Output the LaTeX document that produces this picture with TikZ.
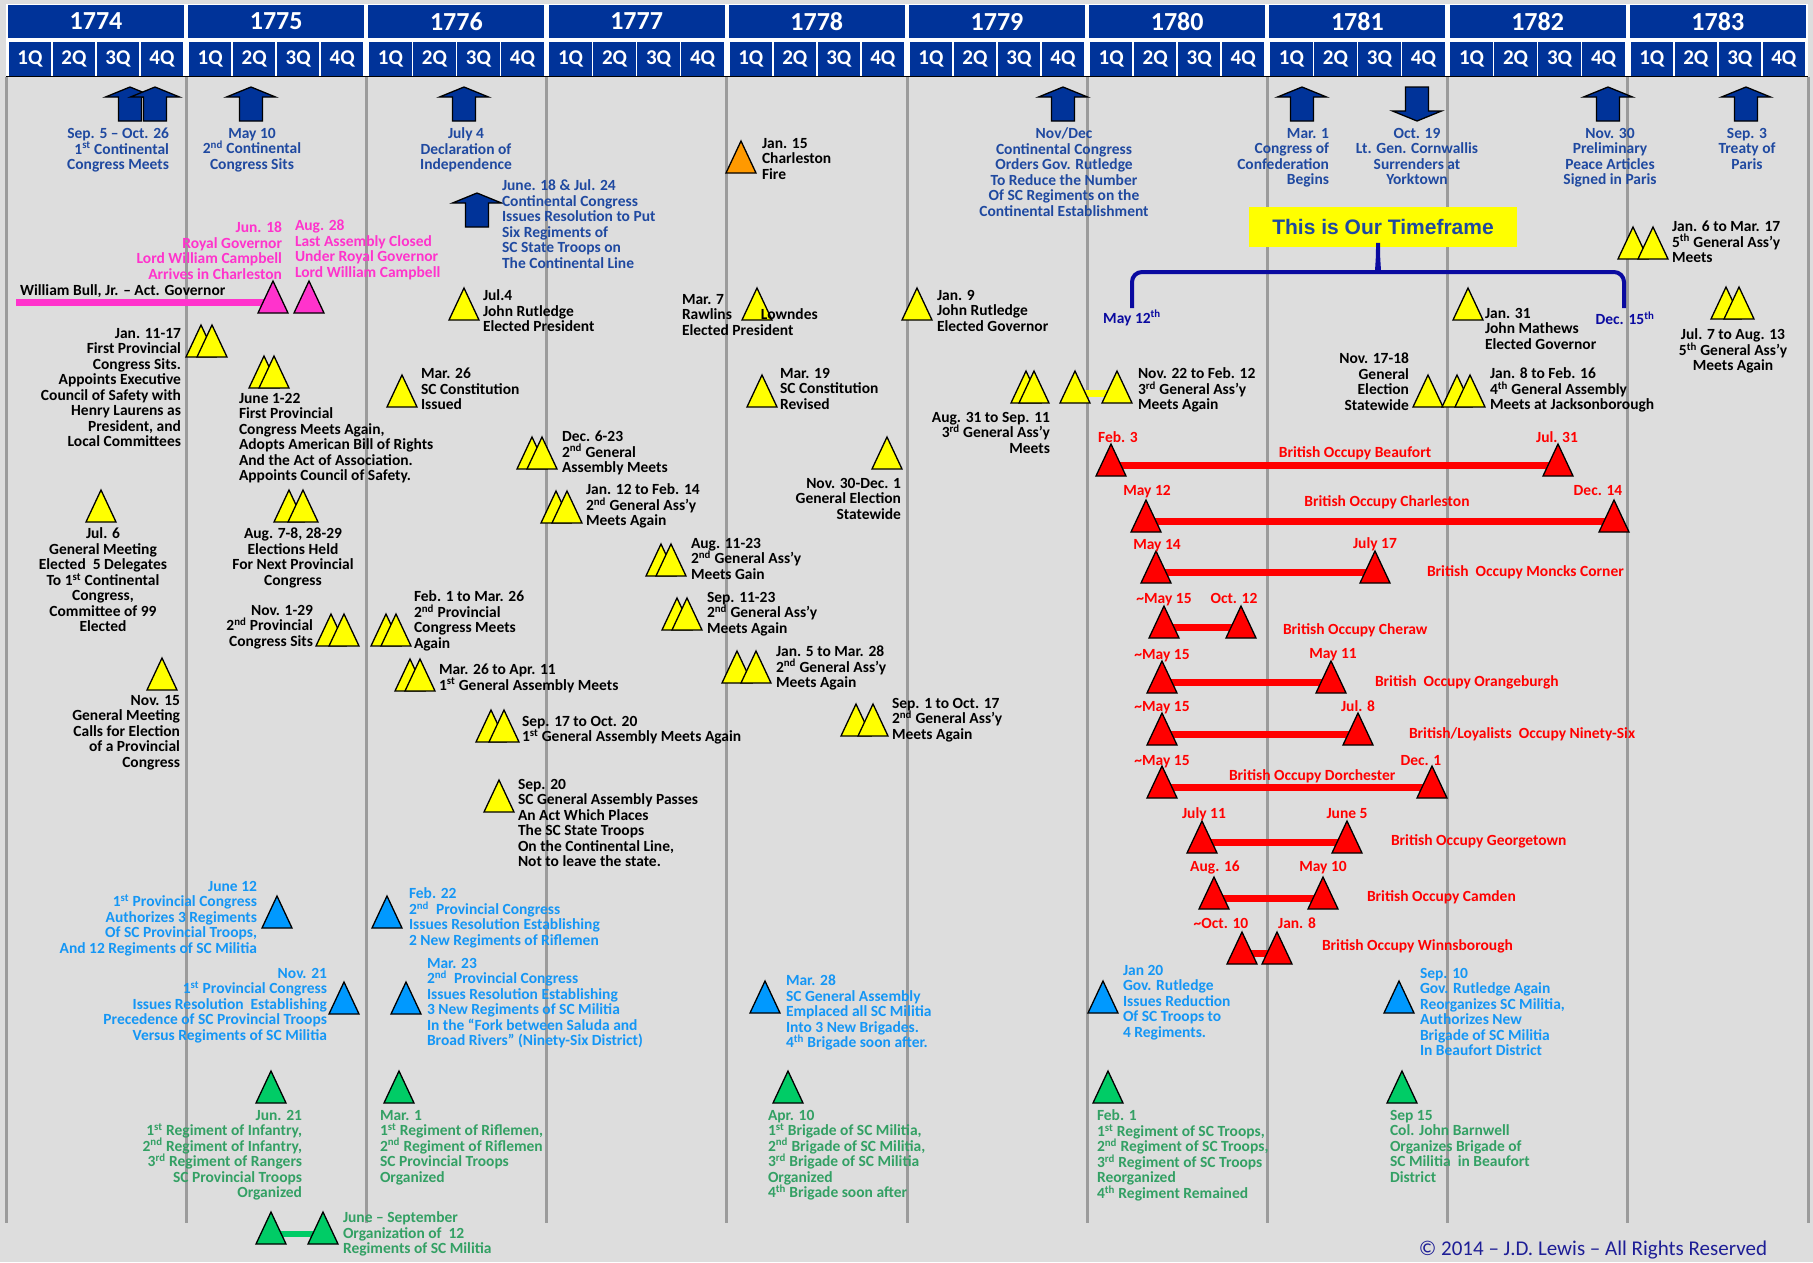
\documentclass[tikz,border=0pt]{standalone}
\usepackage{fontspec}
\setmainfont{Carlito}
\newfontfamily\arialfont{Liberation Sans}
\usetikzlibrary{shapes.geometric}
\pgfdeclarelayer{background}
\pgfdeclarelayer{bars}
\pgfsetlayers{background,bars,main}
\definecolor{hdrBlue}{RGB}{0,51,153}
\definecolor{bgGray}{RGB}{221,221,221}
\definecolor{lineGray}{RGB}{155,155,155}
\definecolor{arrowText}{RGB}{31,73,160}
\definecolor{braceNavy}{RGB}{10,10,160}
\definecolor{govPink}{RGB}{255,51,204}
\definecolor{evYellow}{RGB}{255,255,0}
\definecolor{fireOrange}{RGB}{255,153,0}
\definecolor{occRed}{RGB}{255,0,0}
\definecolor{milBlue}{RGB}{0,153,255}
\definecolor{milBlueText}{RGB}{20,150,245}
\definecolor{regGreen}{RGB}{0,204,102}
\definecolor{regGreenText}{RGB}{51,160,100}
\definecolor{copyNavy}{RGB}{30,30,150}
\def\yearWidth{180.2}
\newcommand{\evtFont}{\fontsize{15.5}{15.5}\selectfont\bfseries\lineskiplimit=-50pt\relax}
\newcommand{\ordsup}[1]{\textsuperscript{#1}}
\tikzstyle{yearbox}=[fill=hdrBlue,text=white,minimum width=176pt,minimum height=33pt,inner sep=0pt,font=\fontsize{26}{26}\selectfont\bfseries]
\tikzstyle{qbox}=[fill=hdrBlue,text=white,minimum width=42.5pt,minimum height=34pt,inner sep=0pt,font=\fontsize{21}{21}\selectfont\bfseries]
\tikzstyle{divider}=[draw=lineGray,line width=3pt]
\tikzstyle{blockarrow}=[fill=hdrBlue,draw=black,line width=1.3pt,line join=miter]
\tikzstyle{tri}=[isosceles triangle,isosceles triangle stretches,shape border rotate=90,minimum width=30pt,minimum height=32pt,inner sep=0pt,outer sep=0pt,draw=black,line width=1.3pt,anchor=lower side]
\tikzstyle{ytri}=[tri,fill=evYellow]
\tikzstyle{otri}=[tri,fill=fireOrange]
\tikzstyle{ptri}=[tri,fill=govPink]
\tikzstyle{rtri}=[tri,fill=occRed]
\tikzstyle{btri}=[tri,fill=milBlue]
\tikzstyle{gtri}=[tri,fill=regGreen]
\tikzstyle{evt}=[font=\evtFont,inner sep=0pt,outer sep=0pt,text=black]
\tikzstyle{atxt}=[evt,text=arrowText]
\tikzstyle{ptxt}=[evt,text=govPink]
\tikzstyle{rtxt}=[evt,text=occRed]
\tikzstyle{btxt}=[evt,text=milBlueText]
\tikzstyle{gtxt}=[evt,text=regGreenText]
\tikzstyle{redbar}=[draw=occRed,line width=7.5pt]
\tikzstyle{pinkbar}=[draw=govPink,line width=7pt]
\tikzstyle{yellowbar}=[draw=evYellow,line width=7pt]
\tikzstyle{greenbar}=[draw=regGreen,line width=6.5pt]
\newcommand{\blockUp}[2]{
  \draw[blockarrow] (#1,#2) -- ++(24.5,10) -- ++(-13,0) -- ++(0,24) -- ++(-23,0) -- ++(0,-24) -- ++(-13,0) -- cycle;
}
\newcommand{\blockDown}[2]{
  \draw[blockarrow] (#1,#2) -- ++(24.5,-10) -- ++(-13,0) -- ++(0,-24) -- ++(-23,0) -- ++(0,24) -- ++(-13,0) -- cycle;
}
\newcommand{\occupy}[4]{
  \node[rtri] (#1-s) at (#2,#4) {};
  \node[rtri] (#1-e) at (#3,#4) {};
  \begin{pgfonlayer}{bars}
    \draw[redbar] ([yshift=10.5pt]#1-s.lower side) -- ([yshift=10.5pt]#1-e.lower side);
  \end{pgfonlayer}
}
\begin{document}
\begin{tikzpicture}[x=1pt,y=-1pt]
\useasboundingbox (0,0) rectangle (1813,1262);
\begin{pgfonlayer}{background}
  \fill[bgGray] (0,0) rectangle (1813,1262);
  \fill[white] (6,4) rectangle (1808,77);
  \foreach \i in {0,...,10}
    \draw[divider] ({6+\yearWidth*\i},77) -- ({6+\yearWidth*\i},1223);
\end{pgfonlayer}

% Years and quarters
\foreach \yr [count=\i from 0] in {1774,...,1783} {
  \node[yearbox] (year\yr) at ({96+\yearWidth*\i},21.5) {\yr};
  \foreach \q in {1,...,4}
    \node[qbox] (q\yr-\q) at ({30+44*(\q-1)+\yearWidth*\i},59) {\q Q};
}
\draw[line width=1.2pt] (6,76.5) -- (1808,76.5);

% Continental events
\blockUp{130}{87}
\blockUp{155}{87}
\blockUp{251}{87}
\blockUp{464}{87}
\blockUp{477}{193}
\blockUp{1063}{87}
\blockUp{1302}{87}
\blockDown{1417}{121}
\blockUp{1608}{87}
\blockUp{1746}{87}
\node[atxt,anchor=north east,align=right] (contMeets) at (169,128) {Sep. 5 – Oct. 26\\1\ordsup{st} Continental\\Congress Meets};
\node[atxt,anchor=north,align=center] (contSits) at (252,128) {May 10\\2\ordsup{nd} Continental\\Congress Sits};
\node[atxt,anchor=north,align=center] (declaration) at (466,128) {July 4\\Declaration of\\Independence};
\node[atxt,anchor=north west,align=left] (sixRegts) at (502,180) {June. 18 \& Jul. 24\\Continental Congress\\Issues Resolution to Put\\Six Regiments of\\SC State Troops on\\The Continental Line};
\node[atxt,anchor=north,align=center] (reduceRegts) at (1064,128) {Nov/Dec\\Continental Congress\\Orders Gov. Rutledge\\To Reduce the Number\\Of SC Regiments on the\\Continental Establishment};
\node[atxt,anchor=north east,align=right] (confederation) at (1329,128) {Mar. 1\\Congress of\\Confederation\\Begins};
\node[atxt,anchor=north,align=center] (yorktown) at (1417,128) {Oct. 19\\Lt. Gen. Cornwallis\\Surrenders at\\Yorktown};
\node[atxt,anchor=north,align=center] (peaceArticles) at (1610,128) {Nov. 30\\Preliminary\\Peace Articles\\Signed in Paris};
\node[atxt,anchor=north,align=center] (treatyParis) at (1747,128) {Sep. 3\\Treaty of\\Paris};

% Our timeframe
\node[fill=evYellow,minimum width=268pt,minimum height=40pt,inner sep=0pt,text=arrowText,font=\arialfont\fontsize{21}{21}\selectfont\bfseries] (timeframe) at (1383,227) {This is Our Timeframe};
\draw[braceNavy,line width=4pt,rounded corners=10pt] (1132,308) |- (1368,272) .. controls (1376,272) and (1378,266) .. (1378,237) .. controls (1378,266) and (1380,272) .. (1388,272) -| (1624,308);
\node[evt,text=braceNavy] (may12) at (1132,318) {May 12\ordsup{th}};
\node[evt,text=braceNavy] (dec15) at (1625,318) {Dec. 15\ordsup{th}};

% Royal governors
\node[ptri] (campbellArr) at (273,313) {};
\node[ptri] (assemblyClosed) at (309,313) {};
\coordinate (bullStart) at (16,302.5);
\begin{pgfonlayer}{bars}
  \draw[pinkbar] (bullStart) -- ([yshift=10.5pt]campbellArr.lower side);
\end{pgfonlayer}
\node[evt,anchor=base west] (bullTxt) at (20,295) {William Bull, Jr. – Act. Governor};
\node[ptxt,anchor=north east,align=right] (campbellTxt) at (282,222) {Jun. 18\\Royal Governor\\Lord William Campbell\\Arrives in Charleston};
\node[ptxt,anchor=north west,align=left] (closedTxt) at (295,220) {Aug. 28\\Last Assembly Closed\\Under Royal Governor\\Lord William Campbell};

% Provincial congresses and general assemblies
\node[ytri] (jan1117a) at (201,357) {};
\node[ytri] (jan1117b) at (212,357) {};
\node[ytri] (jun0122a) at (264,388) {};
\node[ytri] (jun0122b) at (274,388) {};
\node[ytri] (mar26) at (402,407) {};
\node[ytri] (jul06) at (101,522) {};
\node[ytri] (aug0708a) at (289,522) {};
\node[ytri] (aug0708b) at (303,522) {};
\node[ytri] (nov0129a) at (331,646) {};
\node[ytri] (nov0129b) at (344,646) {};
\node[ytri] (feb01a) at (386,646) {};
\node[ytri] (feb01b) at (396,646) {};
\node[ytri] (mar26apr11a) at (410,691) {};
\node[ytri] (mar26apr11b) at (420,691) {};
\node[ytri] (nov15) at (162,690) {};
\node[ytri] (jul04) at (464,320) {};
\node[ytri] (dec0623a) at (532,469) {};
\node[ytri] (dec0623b) at (542,469) {};
\node[ytri] (jan12a) at (556,523) {};
\node[ytri] (jan12b) at (567,523) {};
\node[ytri] (sep17a) at (491,742) {};
\node[ytri] (sep17b) at (504,742) {};
\node[ytri] (sep20) at (499,812) {};
\node[ytri] (aug1123a) at (661,576) {};
\node[ytri] (aug1123b) at (671,576) {};
\node[ytri] (sep1123a) at (677,630) {};
\node[ytri] (sep1123b) at (687,630) {};
\node[ytri] (jan05a) at (737,683) {};
\node[ytri] (jan05b) at (756,683) {};
\node[otri] (fire) at (741,173) {};
\node[ytri] (mar07) at (757,320) {};
\node[ytri] (mar19) at (762,407) {};
\node[ytri] (nov30) at (887,469) {};
\node[ytri] (sep01a) at (856,736) {};
\node[ytri] (sep01b) at (873,736) {};
\node[ytri] (jan09) at (917,320) {};
\node[ytri] (aug31a) at (1026,403) {};
\node[ytri] (aug31b) at (1034,403) {};
\node[ytri] (nov22) at (1075,403) {};
\node[ytri] (feb12) at (1117,403) {};
\begin{pgfonlayer}{bars}
  \draw[yellowbar] ([yshift=10pt]nov22.lower side) -- ([yshift=10pt]feb12.lower side);
\end{pgfonlayer}
\node[ytri] (nov1718) at (1428,407) {};
\node[ytri] (jan08a) at (1457,407) {};
\node[ytri] (jan08b) at (1470,407) {};
\node[ytri] (jan31) at (1468,320) {};
\node[ytri] (jan06a) at (1633,259) {};
\node[ytri] (jan06b) at (1653,259) {};
\node[ytri] (jul07a) at (1726,319) {};
\node[ytri] (jul07b) at (1739,319) {};

\node[evt,anchor=north east,align=right] (jan1117Txt) at (181,328) {Jan. 11-17\\First Provincial\\Congress Sits.\\Appoints Executive\\Council of Safety with\\Henry Laurens as\\President, and\\Local Committees};
\node[evt,anchor=north west,align=left] (jun0122Txt) at (239,393) {June 1-22\\First Provincial\\Congress Meets Again,\\Adopts American Bill of Rights\\And the Act of Association.\\Appoints Council of Safety.};
\node[evt,anchor=north west,align=left] (mar26Txt) at (421,368) {Mar. 26\\SC Constitution\\Issued};
\node[evt,anchor=north,align=center] (jul06Txt) at (103,528) {Jul. 6\\General Meeting\\Elected\ \ 5 Delegates\\To 1\ordsup{st} Continental\\Congress,\\Committee of 99\\Elected};
\node[evt,anchor=north,align=center] (aug0708Txt) at (293,528) {Aug. 7-8, 28-29\\Elections Held\\For Next Provincial\\Congress};
\node[evt,anchor=north east,align=right] (nov0129Txt) at (313,605) {Nov. 1-29\\2\ordsup{nd} Provincial\\Congress Sits};
\node[evt,anchor=north west,align=left] (feb01Txt) at (414,591) {Feb. 1 to Mar. 26\\2\ordsup{nd} Provincial\\Congress Meets\\Again};
\node[evt,anchor=north west,align=left] (mar26apr11Txt) at (439,664) {Mar. 26 to Apr. 11\\1\ordsup{st} General Assembly Meets};
\node[evt,anchor=north east,align=right] (nov15Txt) at (180,695) {Nov. 15\\General Meeting\\Calls for Election\\of a Provincial\\Congress};
\node[evt,anchor=north west,align=left] (jul04Txt) at (483,290) {Jul.4\\John Rutledge\\Elected President};
\node[evt,anchor=north west,align=left] (dec0623Txt) at (562,431) {Dec. 6-23\\2\ordsup{nd} General\\Assembly Meets};
\node[evt,anchor=north west,align=left] (jan12Txt) at (586,484) {Jan. 12 to Feb. 14\\2\ordsup{nd} General Ass’y\\Meets Again};
\node[evt,anchor=north west,align=left] (sep17Txt) at (522,716) {Sep. 17 to Oct. 20\\1\ordsup{st} General Assembly Meets Again};
\node[evt,anchor=north west,align=left] (sep20Txt) at (518,779) {Sep. 20\\SC General Assembly Passes\\An Act Which Places\\The SC State Troops\\On the Continental Line,\\Not to leave the state.};
\node[evt,anchor=north west,align=left] (aug1123Txt) at (691,538) {Aug. 11-23\\2\ordsup{nd} General Ass’y\\Meets Gain};
\node[evt,anchor=north west,align=left] (sep1123Txt) at (707,592) {Sep. 11-23\\2\ordsup{nd} General Ass’y\\Meets Again};
\node[evt,anchor=north west,align=left] (jan05Txt) at (776,646) {Jan. 5 to Mar. 28\\2\ordsup{nd} General Ass’y\\Meets Again};
\node[evt,anchor=north west,align=left] (fireTxt) at (762,138) {Jan. 15\\Charleston\\Fire};
\node[evt,anchor=north west,align=left] (mar07Txt) at (682,294) {Mar. 7\\Rawlins\hspace{29pt}Lowndes\\Elected President};
\node[evt,anchor=north west,align=left] (mar19Txt) at (780,368) {Mar. 19\\SC Constitution\\Revised};
\node[evt,anchor=north east,align=right] (nov30Txt) at (901,478) {Nov. 30-Dec. 1\\General Election\\Statewide};
\node[evt,anchor=north west,align=left] (sep01Txt) at (892,698) {Sep. 1 to Oct. 17\\2\ordsup{nd} General Ass’y\\Meets Again};
\node[evt,anchor=north west,align=left] (jan09Txt) at (937,290) {Jan. 9\\John Rutledge\\Elected Governor};
\node[evt,anchor=north east,align=right] (aug31Txt) at (1050,412) {Aug. 31 to Sep. 11\\3\ordsup{rd} General Ass’y\\Meets};
\node[evt,anchor=north west,align=left] (nov22Txt) at (1138,368) {Nov. 22 to Feb. 12\\3\ordsup{rd} General Ass’y\\Meets Again};
\node[evt,anchor=north east,align=right] (nov1718Txt) at (1409,353) {Nov. 17-18\\General\\Election\\Statewide};
\node[evt,anchor=north west,align=left] (jan08Txt) at (1490,368) {Jan. 8 to Feb. 16\\4\ordsup{th} General Assembly\\Meets at Jacksonborough};
\node[evt,anchor=north west,align=left] (jan31Txt) at (1485,308) {Jan. 31\\John Mathews\\Elected Governor};
\node[evt,anchor=north west,align=left] (jan06Txt) at (1672,221) {Jan. 6 to Mar. 17\\5\ordsup{th} General Ass’y\\Meets};
\node[evt,anchor=north,align=center] (jul07Txt) at (1733,329) {Jul. 7 to Aug. 13\\5\ordsup{th} General Ass’y\\Meets Again};

% British occupations
\occupy{beaufort}{1111}{1558}{476}
\occupy{charleston}{1146}{1614}{532}
\occupy{moncks}{1156}{1375}{583}
\occupy{cheraw}{1164}{1241}{638}
\occupy{orangeburgh}{1162}{1331}{693}
\occupy{ninetysix}{1162}{1358}{745}
\occupy{dorchester}{1162}{1432}{798}
\occupy{georgetown}{1202}{1347}{853}
\occupy{camden}{1214}{1323}{909}
\occupy{winnsborough}{1242}{1277}{964}

\node[rtxt,anchor=base] (beaufortFrom) at (1118,442) {Feb. 3};
\node[rtxt,anchor=base] (beaufortTo) at (1557,442) {Jul. 31};
\node[rtxt,anchor=base] (beaufortTxt) at (1355,457) {British Occupy Beaufort};
\node[rtxt,anchor=base] (charlestonFrom) at (1147,495) {May 12};
\node[rtxt,anchor=base] (charlestonTo) at (1598,495) {Dec. 14};
\node[rtxt,anchor=base] (charlestonTxt) at (1387,506) {British Occupy Charleston};
\node[rtxt,anchor=base] (moncksFrom) at (1157,549) {May 14};
\node[rtxt,anchor=base] (moncksTo) at (1375,548) {July 17};
\node[rtxt,anchor=base west] (moncksTxt) at (1427,576) {British\ \ Occupy Moncks Corner};
\node[rtxt,anchor=base] (cherawFrom) at (1164,603) {\textasciitilde May 15};
\node[rtxt,anchor=base] (cherawTo) at (1234,603) {Oct. 12};
\node[rtxt,anchor=base west] (cherawTxt) at (1283,634) {British Occupy Cheraw};
\node[rtxt,anchor=base] (orangeburghFrom) at (1162,659) {\textasciitilde May 15};
\node[rtxt,anchor=base] (orangeburghTo) at (1333,658) {May 11};
\node[rtxt,anchor=base west] (orangeburghTxt) at (1375,686) {British\ \ Occupy Orangeburgh};
\node[rtxt,anchor=base] (ninetysixFrom) at (1162,711) {\textasciitilde May 15};
\node[rtxt,anchor=base] (ninetysixTo) at (1358,711) {Jul. 8};
\node[rtxt,anchor=base west] (ninetysixTxt) at (1409,738) {British/Loyalists\ \ Occupy Ninety-Six};
\node[rtxt,anchor=base] (dorchesterFrom) at (1162,765) {\textasciitilde May 15};
\node[rtxt,anchor=base] (dorchesterTo) at (1421,765) {Dec. 1};
\node[rtxt,anchor=base west] (dorchesterTxt) at (1229,780) {British Occupy Dorchester};
\node[rtxt,anchor=base] (georgetownFrom) at (1204,818) {July 11};
\node[rtxt,anchor=base] (georgetownTo) at (1347,818) {June 5};
\node[rtxt,anchor=base west] (georgetownTxt) at (1391,845) {British Occupy Georgetown};
\node[rtxt,anchor=base] (camdenFrom) at (1215,871) {Aug. 16};
\node[rtxt,anchor=base] (camdenTo) at (1323,871) {May 10};
\node[rtxt,anchor=base west] (camdenTxt) at (1367,901) {British Occupy Camden};
\node[rtxt,anchor=base] (winnsboroughFrom) at (1221,928) {\textasciitilde Oct. 10};
\node[rtxt,anchor=base] (winnsboroughTo) at (1297,928) {Jan. 8};
\node[rtxt,anchor=base west] (winnsboroughTxt) at (1322,950) {British Occupy Winnsborough};

% Militia and troops
\node[btri] (jun12) at (277,928) {};
\node[btri] (nov21) at (344,1014) {};
\node[btri] (feb22) at (387,928) {};
\node[btri] (mar23) at (406,1014) {};
\node[btri] (mar28) at (765,1013) {};
\node[btri] (jan20) at (1103,1013) {};
\node[btri] (sep10) at (1399,1013) {};
\node[btxt,anchor=north east,align=right] (jun12Txt) at (257,881) {June 12\\1\ordsup{st} Provincial Congress\\Authorizes 3 Regiments\\Of SC Provincial Troops,\\And 12 Regiments of SC Militia};
\node[btxt,anchor=north east,align=right] (nov21Txt) at (327,968) {Nov. 21\\1\ordsup{st} Provincial Congress\\Issues Resolution\ \ Establishing\\Precedence of SC Provincial Troops\\Versus Regiments of SC Militia};
\node[btxt,anchor=north west,align=left] (feb22Txt) at (409,888) {Feb. 22\\2\ordsup{nd}\ \ Provincial Congress\\Issues Resolution Establishing\\2 New Regiments of Riflemen};
\node[btxt,anchor=north west,align=left] (mar23Txt) at (427,958) {Mar. 23\\2\ordsup{nd}\ \ Provincial Congress\\Issues Resolution Establishing\\3 New Regiments of SC Militia\\In the “Fork between Saluda and\\Broad Rivers” (Ninety-Six District)};
\node[btxt,anchor=north west,align=left] (mar28Txt) at (786,975) {Mar. 28\\SC General Assembly\\Emplaced all SC Militia\\Into 3 New Brigades.\\4\ordsup{th} Brigade soon after.};
\node[btxt,anchor=north west,align=left] (jan20Txt) at (1123,965) {Jan 20\\Gov. Rutledge\\Issues Reduction\\Of SC Troops to\\4 Regiments.};
\node[btxt,anchor=north west,align=left] (sep10Txt) at (1420,968) {Sep. 10\\Gov. Rutledge Again\\Reorganizes SC Militia,\\Authorizes New\\Brigade of SC Militia\\In Beaufort District};

\node[gtri] (jun21) at (271,1103) {};
\node[gtri] (mar01) at (399,1103) {};
\node[gtri] (juneStart) at (271,1244) {};
\node[gtri] (septEnd) at (323,1244) {};
\begin{pgfonlayer}{bars}
  \draw[greenbar] ([yshift=10pt]juneStart.lower side) -- ([yshift=10pt]septEnd.lower side);
\end{pgfonlayer}
\node[gtri] (apr10) at (788,1103) {};
\node[gtri] (feb01) at (1108,1103) {};
\node[gtri] (sep15) at (1402,1103) {};
\node[gtxt,anchor=north east,align=right] (jun21Txt) at (302,1110) {Jun. 21\\1\ordsup{st} Regiment of Infantry,\\2\ordsup{nd} Regiment of Infantry,\\3\ordsup{rd} Regiment of Rangers\\SC Provincial Troops\\Organized};
\node[gtxt,anchor=north west,align=left] (mar01Txt) at (380,1110) {Mar. 1\\1\ordsup{st} Regiment of Riflemen,\\2\ordsup{nd} Regiment of Riflemen\\SC Provincial Troops\\Organized};
\node[gtxt,anchor=north west,align=left] (juneSeptTxt) at (343,1212) {June – September\\Organization of\ \ 12\\Regiments of SC Militia};
\node[gtxt,anchor=north west,align=left] (apr10Txt) at (768,1110) {Apr. 10\\1\ordsup{st} Brigade of SC Militia,\\2\ordsup{nd} Brigade of SC Militia,\\3\ordsup{rd} Brigade of SC Militia\\Organized\\4\ordsup{th} Brigade soon after};
\node[gtxt,anchor=north west,align=left] (feb01Txt) at (1097,1110) {Feb. 1\\1\ordsup{st} Regiment of SC Troops,\\2\ordsup{nd} Regiment of SC Troops,\\3\ordsup{rd} Regiment of SC Troops\\Reorganized\\4\ordsup{th} Regiment Remained};
\node[gtxt,anchor=north west,align=left] (sep15Txt) at (1390,1110) {Sep 15\\Col. John Barnwell\\Organizes Brigade of\\SC Militia\ \ in Beaufort\\District};

\node[inner sep=0pt,anchor=base,text=copyNavy,font=\fontsize{21}{21}\selectfont] (copyright) at (1593,1255) {© 2014 – J.D. Lewis – All Rights Reserved};
\end{tikzpicture}
\end{document}
